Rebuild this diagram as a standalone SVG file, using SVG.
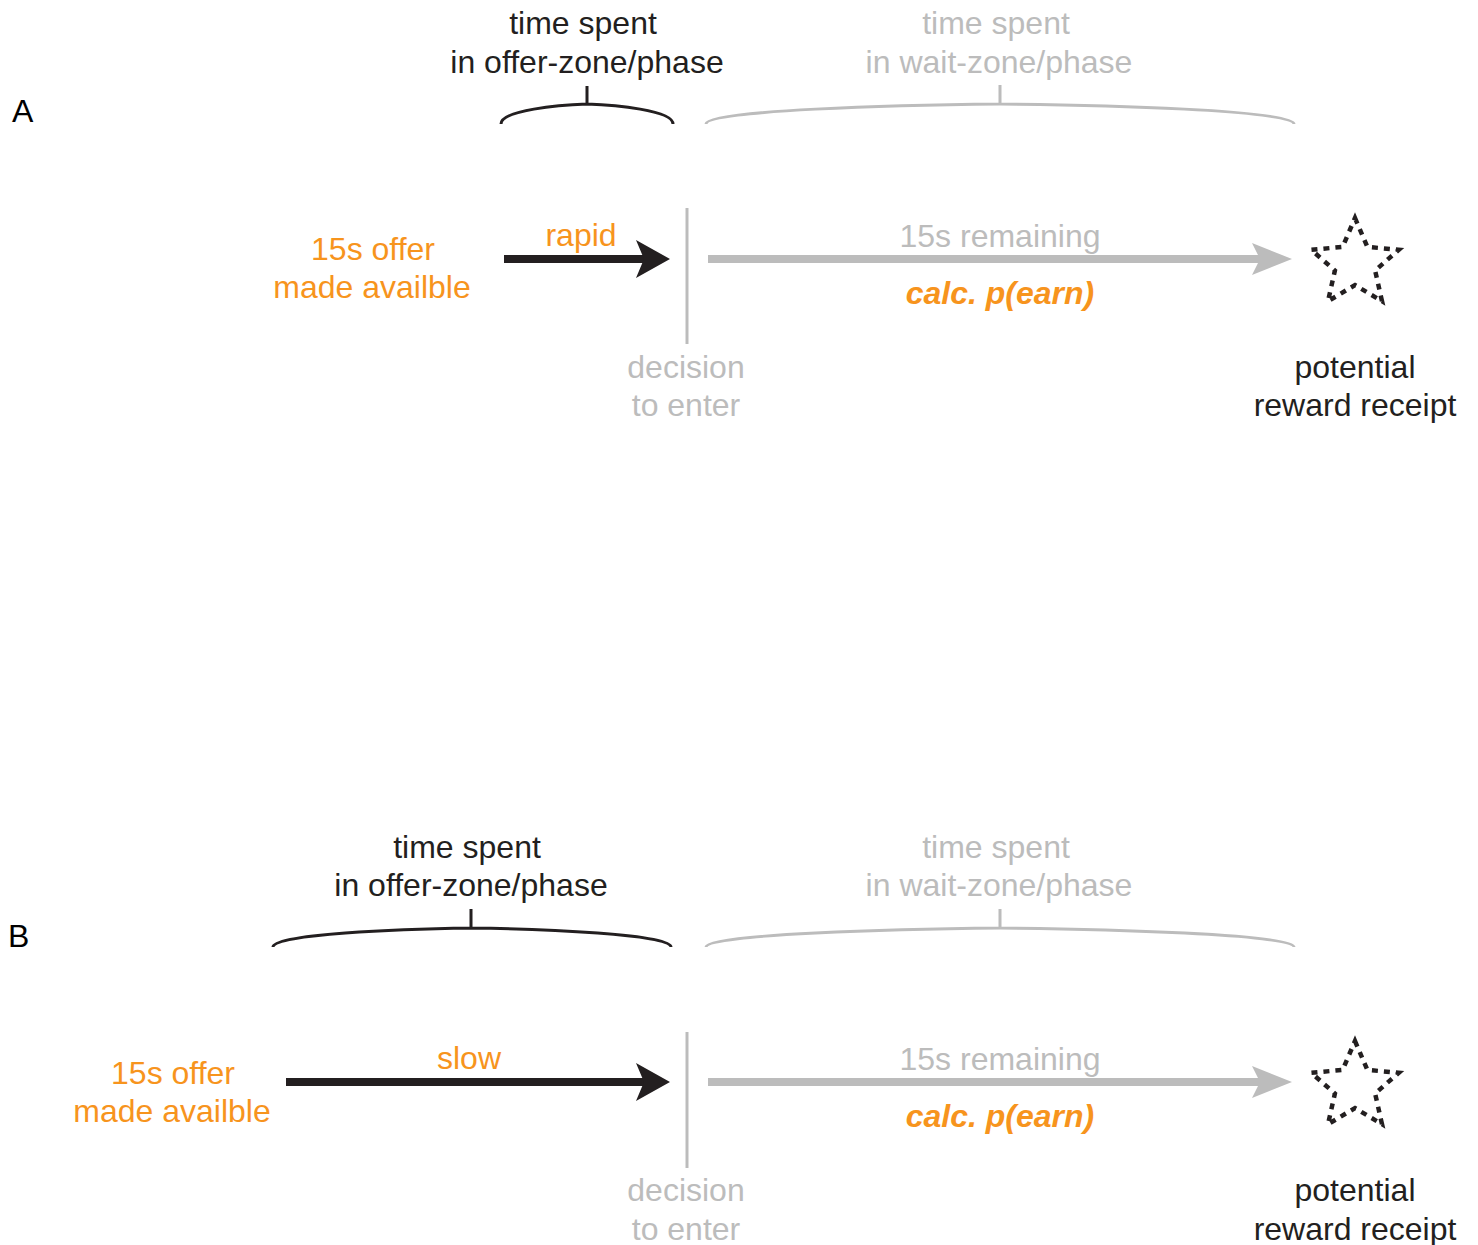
<svg xmlns="http://www.w3.org/2000/svg" width="1478" height="1245" viewBox="0 0 1478 1245">
<style>
text{font-family:"Liberation Sans",Arial,sans-serif;font-size:32px;text-anchor:middle}
.k{fill:#231F20}.g{fill:#BCBCBC}.o{fill:#F7941D}
.ob{fill:#F7941D;font-weight:bold;font-style:italic}
.lbl{font-size:32px;text-anchor:start;fill:#000}
.bk{fill:none;stroke:#231F20;stroke-width:3}
.bg{fill:none;stroke:#BCBCBC;stroke-width:3}
.star{fill:none;stroke:#231F20;stroke-width:4.5;stroke-dasharray:6 6}
</style>
<defs>
<polygon id="hk" points="-34,-19 0,0 -34,19 -26,0" fill="#231F20"/>
<polygon id="hg" points="-40,-16 0,0 -40,16 -32,0" fill="#BCBCBC"/>
<polygon id="st" points="0,-46 12.4,-17.1 43.8,-14.2 20.1,6.5 27.0,37.2 0,21.1 -27.0,37.2 -20.1,6.5 -43.8,-14.2 -12.4,-17.1"/>
</defs>

<g id="panelA">
<text class="lbl" x="12" y="122">A</text>
<g id="A-offerBrace">
<text class="k" x="583" y="34">time spent</text>
<text class="k" x="587" y="73">in offer-zone/phase</text>
<path class="bk" d="M587,86 V104 M501,124 C501,110 560,105 587,104 C614,105 673,110 673,124"/>
</g>
<g id="A-waitBrace">
<text class="g" x="996" y="34">time spent</text>
<text class="g" x="999" y="73">in wait-zone/phase</text>
<path class="bg" d="M1000,85 V104 M706,124 C706,110 900,105 1000,104 C1100,105 1294,110 1294,124"/>
</g>
<g id="A-offer">
<text class="o" x="373" y="260">15s offer</text>
<text class="o" x="372" y="298">made availble</text>
</g>
<g id="A-decision">
<line x1="687" y1="208" x2="687" y2="344" stroke="#BCBCBC" stroke-width="3"/>
<text class="g" x="686" y="378">decision</text>
<text class="g" x="686" y="416">to enter</text>
</g>
<g id="A-reward">
<use href="#st" class="star" x="1355" y="264"/>
<text class="k" x="1355" y="378">potential</text>
<text class="k" x="1355" y="416">reward receipt</text>
</g>
<g id="A-connectors">
<line x1="504" y1="259" x2="645" y2="259" stroke="#231F20" stroke-width="8"/>
<use href="#hk" x="670" y="259"/>
<text class="o" x="581" y="246">rapid</text>
<line x1="708" y1="259" x2="1262" y2="259" stroke="#BCBCBC" stroke-width="8"/>
<use href="#hg" x="1292" y="259"/>
<text class="g" x="1000" y="247">15s remaining</text>
<text class="ob" x="1000" y="304">calc. p(earn)</text>
</g>
</g>

<g id="panelB">
<text class="lbl" x="8" y="947">B</text>
<g id="B-offerBrace">
<text class="k" x="467" y="858">time spent</text>
<text class="k" x="471" y="896">in offer-zone/phase</text>
<path class="bk" d="M471,909 V928 M273,947 C273,934 400,929 471,928 C542,929 671,934 671,947"/>
</g>
<g id="B-waitBrace">
<text class="g" x="996" y="858">time spent</text>
<text class="g" x="999" y="896">in wait-zone/phase</text>
<path class="bg" d="M1000,909 V928 M706,947 C706,934 900,929 1000,928 C1100,929 1294,934 1294,947"/>
</g>
<g id="B-offer">
<text class="o" x="173" y="1084">15s offer</text>
<text class="o" x="172" y="1122">made availble</text>
</g>
<g id="B-decision">
<line x1="687" y1="1032" x2="687" y2="1168" stroke="#BCBCBC" stroke-width="3"/>
<text class="g" x="686" y="1201">decision</text>
<text class="g" x="686" y="1240">to enter</text>
</g>
<g id="B-reward">
<use href="#st" class="star" x="1355" y="1087"/>
<text class="k" x="1355" y="1201">potential</text>
<text class="k" x="1355" y="1240">reward receipt</text>
</g>
<g id="B-connectors">
<line x1="286" y1="1082" x2="645" y2="1082" stroke="#231F20" stroke-width="8"/>
<use href="#hk" x="670" y="1082"/>
<text class="o" x="469" y="1069">slow</text>
<line x1="708" y1="1082" x2="1262" y2="1082" stroke="#BCBCBC" stroke-width="8"/>
<use href="#hg" x="1292" y="1082"/>
<text class="g" x="1000" y="1070">15s remaining</text>
<text class="ob" x="1000" y="1127">calc. p(earn)</text>
</g>
</g>
</svg>
